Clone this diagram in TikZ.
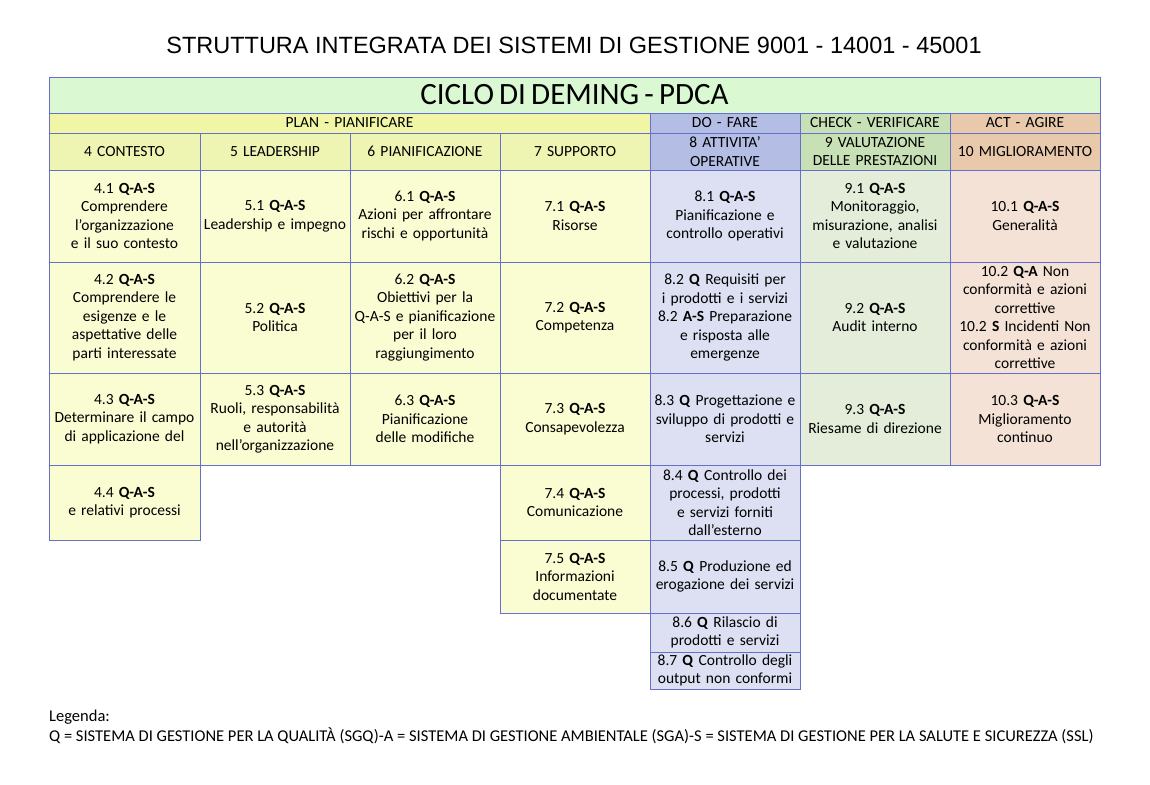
\documentclass[tikz,border=0pt]{standalone}
\usepackage{fontspec}
\setmainfont{Carlito}
\newfontfamily\titlefont{Liberation Sans}
\hyphenpenalty=10000
\exhyphenpenalty=10000
\begin{document}
\hyphenpenalty=10000
\exhyphenpenalty=10000
\begin{tikzpicture}[x=1pt,y=-1pt]
\definecolor{bd}{HTML}{6670CC}
\definecolor{ttl}{HTML}{DAF8D2}
\definecolor{pph}{HTML}{F0F6A6}
\definecolor{phd}{HTML}{EEF5B2}
\definecolor{pbd}{HTML}{FAFDD2}
\definecolor{dph}{HTML}{B4BDE4}
\definecolor{dbd}{HTML}{DCE0F2}
\definecolor{cph}{HTML}{C7E0B6}
\definecolor{cbd}{HTML}{E4EDDA}
\definecolor{aph}{HTML}{E9C9AB}
\definecolor{abd}{HTML}{F3E2D5}
\tikzset{cellbox/.style={draw=bd,line width=0.8pt,inner sep=0pt,align=center,font=\fontsize{15.5}{18.5}\selectfont}}
\newcommand\mycell[7]{\node[cellbox,fill=#6,minimum width={#4-#2},minimum height={#5-#3},text width={#4-#2-4}] (#1) at ({(#2+#4)/2},{(#3+#5)/2}) {#7};}
\useasboundingbox (0,0) rectangle (1150,784);
\node[font=\titlefont\fontsize{23.5}{26}\selectfont] (title) at (574,45) {STRUTTURA INTEGRATA DEI SISTEMI DI GESTIONE 9001 - 14001 - 45001};
\mycell{ciclo}{49}{77}{1100}{113}{ttl}{\fontsize{31}{34}\selectfont CICLO DI DEMING - PDCA}
\mycell{plan}{49}{113}{650}{133}{pph}{PLAN - PIANIFICARE}
\mycell{do}{650}{113}{800}{133}{dph}{DO - FARE}
\mycell{check}{800}{113}{950}{133}{cph}{CHECK - VERIFICARE}
\mycell{act}{950}{113}{1100}{133}{aph}{ACT - AGIRE}
\mycell{h4}{49}{133}{200}{170}{phd}{4 CONTESTO}
\mycell{h5}{200}{133}{350}{170}{phd}{5 LEADERSHIP}
\mycell{h6}{350}{133}{500}{170}{phd}{6 PIANIFICAZIONE}
\mycell{h7}{500}{133}{650}{170}{phd}{7 SUPPORTO}
\mycell{h8}{650}{133}{800}{170}{dph}{8 ATTIVITA'\\OPERATIVE}
\mycell{h9}{800}{133}{950}{170}{cph}{9 VALUTAZIONE\\DELLE PRESTAZIONI}
\mycell{h10}{950}{133}{1100}{170}{aph}{10 MIGLIORAMENTO}
% row 1
\mycell{c41}{49}{170}{200}{262}{pbd}{4.1 \textbf{Q-A-S}\\Comprendere\\l'organizzazione e il suo contesto}
\mycell{c51}{200}{170}{350}{262}{pbd}{5.1 \textbf{Q-A-S}\\Leadership e impegno}
\mycell{c61}{350}{170}{500}{262}{pbd}{6.1 \textbf{Q-A-S}\\Azioni per affrontare rischi e opportunità}
\mycell{c71}{500}{170}{650}{262}{pbd}{7.1 \textbf{Q-A-S}\\Risorse\\[6pt]}
\mycell{c81}{650}{170}{800}{262}{dbd}{8.1 \textbf{Q-A-S}\\Pianificazione e\\controllo operativi\\[6pt]}
\mycell{c91}{800}{170}{950}{262}{cbd}{9.1 \textbf{Q-A-S}\\Monitoraggio,\\misurazione, analisi e valutazione\\[12pt]}
\mycell{c101}{950}{170}{1100}{262}{abd}{10.1 \textbf{Q-A-S}\\Generalità\\[6pt]}
% row 2
\mycell{c42}{49}{262}{200}{373}{pbd}{4.2 \textbf{Q-A-S}\\Comprendere le\\esigenze e le\\aspettative delle parti interessate}
\mycell{c52}{200}{262}{350}{373}{pbd}{5.2 \textbf{Q-A-S}\\Politica\\[12pt]}
\mycell{c62}{350}{262}{500}{373}{pbd}{6.2 \textbf{Q-A-S}\\Obiettivi per la\\Q-A-S e pianificazione per il loro\\raggiungimento}
\mycell{c72}{500}{262}{650}{373}{pbd}{7.2 \textbf{Q-A-S}\\Competenza\\[12pt]}
\mycell{c82}{650}{262}{800}{373}{dbd}{8.2 \textbf{Q} Requisiti per i prodotti e i servizi\\8.2 \textbf{A-S} Preparazione\\e risposta alle\\emergenze}
\mycell{c92}{800}{262}{950}{373}{cbd}{9.2 \textbf{Q-A-S}\\Audit interno\\[12pt]}
\mycell{c102}{950}{262}{1100}{373}{abd}{10.2 \textbf{Q-A} Non\\conformità e azioni\\correttive\\10.2 \textbf{S} Incidenti Non conformità e azioni\\correttive}
% row 3
\mycell{c43}{49}{373}{200}{465}{pbd}{4.3 \textbf{Q-A-S}\\Determinare il campo di applicazione del\\[14pt]}
\mycell{c53}{200}{373}{350}{465}{pbd}{5.3 \textbf{Q-A-S}\\Ruoli, responsabilità e autorità\\nell'organizzazione\\[12pt]}
\mycell{c63}{350}{373}{500}{465}{pbd}{6.3 \textbf{Q-A-S}\\Pianificazione delle modifiche\\[14pt]}
\mycell{c73}{500}{373}{650}{465}{pbd}{7.3 \textbf{Q-A-S}\\Consapevolezza}
\mycell{c83}{650}{373}{800}{465}{dbd}{8.3 \textbf{Q} Progettazione e sviluppo di prodotti e\\servizi}
\mycell{c93}{800}{373}{950}{465}{cbd}{9.3 \textbf{Q-A-S}\\Riesame di direzione}
\mycell{c103}{950}{373}{1100}{465}{abd}{10.3 \textbf{Q-A-S}\\Miglioramento\\continuo\\[14pt]}
% row 4+
\mycell{c44}{49}{465}{200}{540}{pbd}{4.4 \textbf{Q-A-S}\\e relativi processi}
\mycell{c74}{500}{465}{650}{540}{pbd}{7.4 \textbf{Q-A-S}\\Comunicazione}
\mycell{c84}{650}{465}{800}{540}{dbd}{8.4 \textbf{Q} Controllo dei processi, prodotti e servizi forniti\\dall'esterno}
\mycell{c75}{500}{540}{650}{613}{pbd}{7.5 \textbf{Q-A-S}\\Informazioni\\documentate\\[6pt]}
\mycell{c85}{650}{540}{800}{613}{dbd}{8.5 \textbf{Q} Produzione ed erogazione dei servizi}
\mycell{c86}{650}{613}{800}{652}{dbd}{8.6 \textbf{Q} Rilascio di\\prodotti e servizi}
\mycell{c87}{650}{652}{800}{689}{dbd}{8.7 \textbf{Q} Controllo degli\\output non conformi}
\node[anchor=west,inner sep=0pt,font=\fontsize{16.5}{18}\selectfont] (leg1) at (49,717) {Legenda:};
\node[anchor=west,inner sep=0pt,font=\fontsize{16.5}{18}\selectfont] (leg2) at (49,736) {Q = SISTEMA DI GESTIONE PER LA QUALITÀ (SGQ)-A = SISTEMA DI GESTIONE AMBIENTALE (SGA)-S = SISTEMA DI GESTIONE PER LA SALUTE E SICUREZZA (SSL)};
\end{tikzpicture}
\end{document}
